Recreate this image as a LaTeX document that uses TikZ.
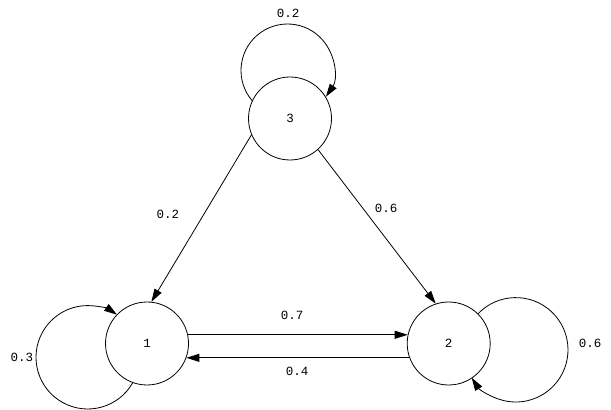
\documentclass[tikz,border=0pt]{standalone}
\usepackage{fontspec}
\setmainfont{Liberation Mono}
\usetikzlibrary{arrows.meta}
\begin{document}
\begin{tikzpicture}[x=1pt,y=1pt,
  state/.style={circle,draw,line width=0.8pt,minimum size=83pt,inner sep=0pt,font=\fontsize{12.5}{14}\selectfont},
  lbl/.style={font=\fontsize{12.5}{14}\selectfont,inner sep=0pt},
  edge/.style={line width=0.8pt,-{Triangle[length=13pt,width=8pt]}}]
\useasboundingbox (0,0) rectangle (611,410);
\node[state] (n3) at (290,291.5) {3};
\node[state] (n1) at (147,66.5) {1};
\node[state] (n2) at (448.7,66.5) {2};
\coordinate (c3) at (287.5,339.5);
\coordinate (c1) at (87.7,52.7);
\coordinate (c2) at (515.8,60.2);
% self loops
\draw[edge] ([shift={(220.3:46.5)}]c3) arc[start angle=220.3,end angle=-34.3,radius=46.5];
\draw[edge] ([shift={(-29.2:51.7)}]c1) arc[start angle=-29.2,end angle=-304.6,radius=51.7];
\draw[edge] ([shift={(136.5:52.2)}]c2) arc[start angle=136.5,end angle=-147.6,radius=52.2];
% straight edges
\draw[edge] (n3.203) -- (n1.84);
\draw[edge] (n3.-48) -- (n2.108.6);
\draw[edge] (n1.12) -- (n2.168);
\draw[edge] (n2.-160) -- (n1.-20);
% labels
\node[lbl] (l33) at (288,397) {0.2};
\node[lbl] (l11) at (22,53) {0.3};
\node[lbl] (l22) at (590,67) {0.6};
\node[lbl] (l12) at (292,95) {0.7};
\node[lbl] (l21) at (297,39) {0.4};
\node[lbl] (l31) at (168,196) {0.2};
\node[lbl] (l32) at (386,202) {0.6};
\end{tikzpicture}
\end{document}
